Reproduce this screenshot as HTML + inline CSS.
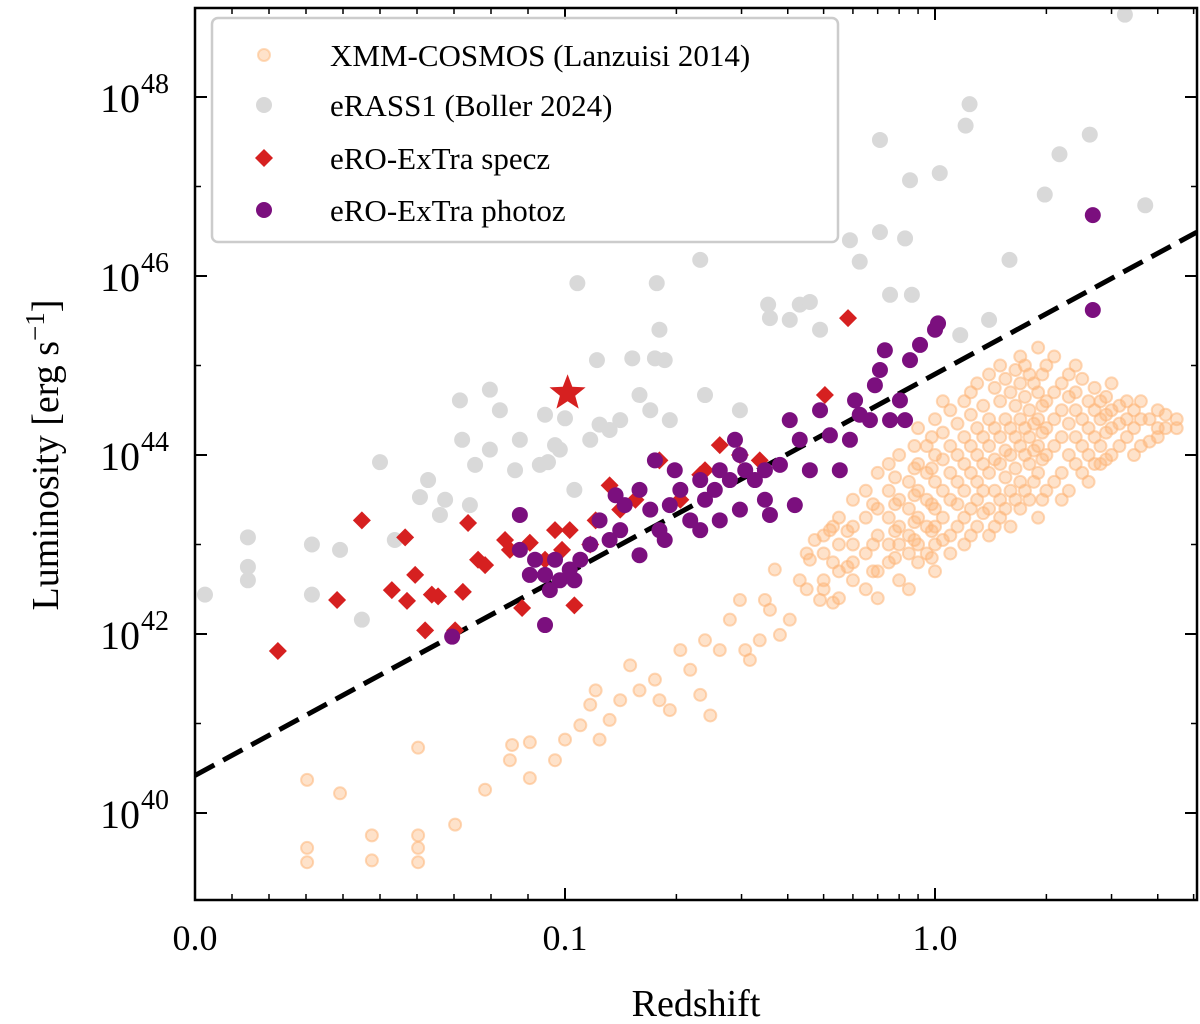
<!DOCTYPE html>
<html><head><meta charset="utf-8"><style>
html,body{margin:0;padding:0;background:#fff;}
svg{display:block;font-family:"Liberation Serif","DejaVu Serif",serif;}
</style></head><body>
<svg id="chart" width="1200" height="1024" viewBox="0 0 1200 1024" xmlns="http://www.w3.org/2000/svg">
<g id="marks"></g>
<g id="axes"></g>
</svg>
<script>
// ---- data ----
const xMajorTicks = [0.0, 0.1, 1.0];
const xMajorLabels = ["0.0", "0.1", "1.0"];
const yMajorTicks = [40, 42, 44, 46, 48];
const fitLineZ = [0, 5.1];
const fitLineL = [40.42, 46.49];

const orangeZ = [0.0303,0.0303,0.0303,0.0392,0.0478,0.0478,0.0603,0.0603,0.0603,0.0603,0.0703,0.0784,0.0857,0.0851,0.0905,0.0905,0.0973,0.1,0.110,0.117,0.121,0.124,0.132,0.141,0.150,0.159,0.175,0.180,0.192,0.205,0.218,0.232,0.247,0.239,0.262,0.279,0.297,0.307,0.316,0.336,0.347,0.358,0.369,0.381,0.405,0.431,0.459,0.473,0.489,0.520,
0.5,0.5,0.5,0.5,0.55,0.55,0.55,0.55,0.6,0.6,0.6,0.6,0.6,0.65,0.65,0.65,0.65,0.7,0.7,0.7,0.7,0.7,0.75,0.75,0.75,0.75,0.75,0.8,0.8,0.8,0.8,0.8,0.85,0.85,0.85,0.85,0.85,0.9,0.9,0.9,0.9,0.9,0.9,0.95,0.95,0.95,0.95,0.95,1.0,1.0,1.0,1.0,1.0,1.0,1.0,1.1,1.1,1.1,1.1,1.1,1.1,1.2,1.2,1.2,1.2,1.2,1.2,1.3,1.3,1.3,1.3,1.3,1.3,1.4,1.4,1.4,1.4,1.4,1.4,1.5,1.5,1.5,1.5,1.5,1.5,1.6,1.6,1.6,1.6,1.6,1.7,1.7,1.7,1.7,1.7,1.7,1.8,1.8,1.8,1.8,1.8,1.9,1.9,1.9,1.9,1.9,1.9,2.0,2.0,2.0,2.0,2.0,2.2,2.2,2.2,2.2,2.2,2.4,2.4,2.4,2.4,2.4,2.6,2.6,2.6,2.6,2.8,2.8,2.8,2.8,3.0,3.0,3.0,3.0,3.3,3.3,3.3,3.6,3.6,3.6,4.0,4.0,4.0,4.5,4.5,
0.58,0.58,0.68,0.68,0.68,0.78,0.78,0.78,0.78,0.88,0.88,0.88,0.88,0.88,0.98,0.98,0.98,0.98,0.98,1.05,1.05,1.05,1.05,1.05,1.05,1.15,1.15,1.15,1.15,1.15,1.25,1.25,1.25,1.25,1.25,1.25,1.35,1.35,1.35,1.35,1.35,1.45,1.45,1.45,1.45,1.45,1.55,1.55,1.55,1.55,1.55,1.65,1.65,1.65,1.65,1.65,1.75,1.75,1.75,1.75,1.75,1.85,1.85,1.85,1.85,1.95,1.95,1.95,1.95,1.95,2.1,2.1,2.1,2.1,2.1,2.3,2.3,2.3,2.3,2.3,2.5,2.5,2.5,2.5,2.7,2.7,2.7,2.7,2.9,2.9,2.9,2.9,3.15,3.15,3.15,3.45,3.45,3.45,3.8,3.8,4.2,4.2,0.45,0.45,0.53,0.53,0.53];
const orangeL = [40.37,39.61,39.45,40.22,39.75,39.47,40.73,39.75,39.61,39.45,39.87,40.26,40.76,40.59,40.39,40.79,40.59,40.82,40.98,41.21,41.37,40.82,41.04,41.26,41.65,41.37,41.49,41.26,41.15,41.82,41.60,41.32,41.09,41.93,41.82,42.16,42.38,41.82,41.71,41.93,42.38,42.27,42.72,41.99,42.16,42.60,42.83,43.05,42.38,43.16,
42.6,42.9,43.1,42.5,42.7,43.0,43.3,42.4,42.8,43.2,43.5,42.6,43.0,42.9,43.3,42.5,43.6,42.7,43.1,43.4,43.8,42.4,43.0,43.3,42.8,43.6,43.9,42.6,43.2,43.5,43.0,44.0,42.9,43.4,43.7,43.1,42.5,43.0,43.3,43.6,43.9,42.8,44.3,43.2,43.5,43.8,42.9,44.1,42.7,43.0,43.4,43.7,44.0,44.4,43.2,43.1,43.5,43.8,44.1,42.9,44.5,43.3,43.6,43.9,44.2,43.0,44.6,43.2,43.7,44.0,44.3,43.5,44.8,43.4,43.8,44.1,44.4,43.1,44.9,43.5,43.9,44.2,44.6,43.3,45.0,43.6,44.0,44.3,44.7,43.2,43.7,44.1,44.4,44.8,43.4,45.1,43.5,43.9,44.2,44.5,44.9,43.8,44.1,44.4,44.7,43.3,45.2,43.6,44.0,44.3,44.6,45.0,43.8,44.2,44.5,44.8,43.5,43.9,44.2,44.5,44.7,45.0,44.0,44.3,44.6,43.7,44.1,44.4,44.6,43.9,44.0,44.3,44.5,44.8,44.2,44.4,44.6,44.1,44.4,44.6,44.2,44.5,44.3,44.4,44.3,
42.75,43.15,43.0,43.45,42.7,42.85,43.15,43.45,43.75,43.05,43.25,43.55,43.85,44.1,42.85,43.15,43.45,43.85,44.2,43.05,43.3,43.6,43.95,44.25,44.6,43.2,43.45,43.7,44.0,44.35,43.1,43.4,43.8,44.1,44.45,44.7,43.35,43.6,43.9,44.2,44.55,43.6,43.95,44.3,44.75,43.2,43.4,43.75,44.05,44.4,44.85,43.5,43.85,44.2,44.55,44.95,43.6,44.0,44.3,44.65,45.0,43.7,44.05,44.35,44.8,43.5,43.95,44.25,44.55,44.9,43.7,44.1,44.4,44.7,45.1,43.6,44.0,44.35,44.65,44.9,43.8,44.1,44.4,44.85,43.9,44.2,44.5,44.75,43.95,44.25,44.45,44.65,44.1,44.35,44.55,44.0,44.3,44.5,44.15,44.4,44.3,44.45,42.5,42.9,42.35,42.8,43.2];

const greyZ = [0.0027,0.0143,0.0143,0.0143,0.0316,0.0316,0.0392,0.0451,0.05,0.054,0.0608,0.063,0.0662,0.0676,0.0716,0.0722,0.0743,0.0757,0.0797,0.0797,0.0824,0.0865,0.0878,0.0932,0.0946,0.0954,0.0973,0.0986,0.108,0.117,0.122,0.124,0.132,0.141,0.152,0.159,0.170,0.175,0.177,0.180,0.186,0.192,0.232,0.239,0.297,0.354,0.358,0.405,0.431,0.459,0.489,0.589,0.626,0.710,0.710,0.756,0.830,0.856,0.866,1.03,1.17,1.21,1.24,1.40,1.59,1.98,2.17,2.62,3.26,3.70,0.1,0.106];
const greyL = [42.44,43.08,42.60,42.75,43.0,42.44,42.94,42.16,43.92,43.05,43.53,43.72,43.33,43.5,44.61,44.17,43.44,43.89,44.73,44.06,44.50,43.83,44.17,43.89,44.45,43.92,44.11,44.06,45.92,44.17,45.06,44.34,44.28,44.39,45.08,44.67,44.50,45.08,45.92,45.40,45.06,44.39,46.18,44.67,44.50,45.68,45.53,45.51,45.68,45.71,45.40,46.40,46.16,47.52,46.49,45.79,46.42,47.07,45.79,47.15,45.34,47.68,47.92,45.51,46.18,46.91,47.36,47.58,48.92,46.79,44.41,43.61];

const speczZ = [0.0224,0.0384,0.0451,0.0532,0.0568,0.0595,0.0573,0.0622,0.064,0.0657,0.0703,0.0724,0.0738,0.0765,0.0784,0.0838,0.0851,0.0884,0.0905,0.0946,0.0973,0.0992,0.103,0.117,0.106,0.121,0.132,0.141,0.155,0.180,0.205,0.232,0.239,0.262,0.297,0.336,0.582,0.504];
const speczL = [41.81,42.38,43.27,42.49,43.08,42.66,42.37,42.04,42.44,42.42,42.04,42.47,43.24,42.83,42.77,43.05,42.94,42.29,43.02,42.83,43.16,42.94,43.16,43.0,42.32,43.27,43.66,43.39,43.5,43.94,43.5,43.78,43.83,44.11,44.0,43.94,45.53,44.67];
const starZ = [0.1016];
const starL = [44.69];

const photozZ = [0.0695,0.0946,0.0878,0.0905,0.0946,0.0973,0.0986,0.106,0.110,0.124,0.137,0.141,0.145,0.159,0.170,0.175,0.180,0.192,0.205,0.218,0.232,0.239,0.254,0.262,0.279,0.297,0.307,0.326,0.347,0.358,0.381,0.405,0.418,0.431,0.459,0.489,0.520,0.553,0.589,0.608,0.626,0.667,0.688,0.710,0.732,0.756,0.804,0.830,0.856,0.911,1.0,1.019,2.67,2.67,0.117,0.132,0.159,0.186,0.198,0.232,0.262,0.297,0.288,0.347,0.0878,0.0919,0.0959,0.103];
const photozL = [41.97,42.10,43.33,42.66,42.66,42.83,42.60,42.60,42.83,43.27,43.55,43.16,43.44,43.61,43.39,43.94,43.16,43.44,43.61,43.27,43.72,43.50,43.61,43.83,43.72,44.0,43.83,43.72,43.50,43.33,43.89,44.39,43.44,44.17,43.83,44.50,44.22,43.83,44.17,44.61,44.45,44.39,44.78,44.95,45.17,44.39,44.61,44.39,45.06,45.23,45.40,45.47,45.62,46.68,43.0,43.05,42.88,43.05,43.83,43.16,43.27,43.39,44.17,43.83,42.94,42.83,42.49,42.72];

// ---- scales ----
const X0 = 195, X1 = 1197, Y0 = 8, Y1 = 900;
function xpx(z){ return z <= 0.1 ? X0 + 3700*z : 565 + 370*Math.log10(z/0.1); }
function ypx(L){ return 97 + (48 - L)*89.5; }

const NS = "http://www.w3.org/2000/svg";
const marks = document.getElementById('marks');
const axes = document.getElementById('axes');
function mk(tag, attrs, parent){
  const e = document.createElementNS(NS, tag);
  for (const k in attrs) e.setAttribute(k, attrs[k]);
  parent.appendChild(e); return e;
}
const defs = mk('defs', {}, document.getElementById('chart'));
const cp = mk('clipPath', {id:'clip'}, defs);
mk('rect', {x:X0, y:Y0, width:X1-X0, height:Y1-Y0}, cp);
marks.setAttribute('clip-path', 'url(#clip)');

orangeZ.forEach((z,i)=>{
  const c = mk('circle', {cx:xpx(z), cy:ypx(orangeL[i]), r:6, fill:'#fdb77a', 'fill-opacity':0.4, stroke:'#fdb77a', 'stroke-opacity':0.55, 'stroke-width':2}, marks);
  
  
});
greyZ.forEach((z,i)=>{
  const c = mk('circle', {cx:xpx(z), cy:ypx(greyL[i]), r:8, fill:'#d9d9d9'}, marks);
  
  
});
{
  const l = mk('line', {x1:xpx(fitLineZ[0]), y1:ypx(fitLineL[0]), x2:xpx(fitLineZ[1]), y2:ypx(fitLineL[1]), stroke:'#000', 'stroke-width':5, 'stroke-dasharray':'22,10'}, marks);
  
  
}
function diamond(cx, cy, s){ return `M${cx},${cy-s} L${cx+s},${cy} L${cx},${cy+s} L${cx-s},${cy} Z`; }
speczZ.forEach((z,i)=>{
  const p = mk('path', {d:diamond(xpx(z), ypx(speczL[i]), 9), fill:'#d62020'}, marks);
  
  
});
photozZ.forEach((z,i)=>{
  const c = mk('circle', {cx:xpx(z), cy:ypx(photozL[i]), r:8, fill:'#7b0f7e'}, marks);
  
  
});
function starPath(cx, cy, R, r){
  let d = '';
  for (let k=0;k<10;k++){
    const a = -Math.PI/2 + k*Math.PI/5, rr = k%2 ? r : R;
    d += (k?'L':'M') + (cx + rr*Math.cos(a)).toFixed(1) + ',' + (cy + rr*Math.sin(a)).toFixed(1);
  }
  return d + 'Z';
}
starZ.forEach((z,i)=>{
  const p = mk('path', {d:starPath(xpx(z), ypx(starL[i]), 19, 8), fill:'#d62020'}, marks);
  
  
});

// ---- axes ----
const frame = mk('rect', {x:X0, y:Y0, width:X1-X0, height:Y1-Y0, fill:'none', stroke:'#000', 'stroke-width':2.5}, axes);


function tick(x1,y1,x2,y2,w){ mk('line',{x1,y1,x2,y2,stroke:'#000','stroke-width':w},axes); }
xMajorTicks.forEach((v,i)=>{
  const x = xpx(v);
  tick(x, Y1, x, Y1-12, 2); tick(x, Y0, x, Y0+12, 2);
  const t = mk('text', {x:x, y:950, 'text-anchor':'middle', 'font-size':36}, axes);
  t.textContent = xMajorLabels[i];
  
  
});
const minorX = [];
for (let k=1;k<10;k++) minorX.push(k*0.01);
for (let k=2;k<10;k++) minorX.push(k*0.1);
for (let k=2;k<=5;k++) minorX.push(k*1);
minorX.forEach(v=>{ const x=xpx(v); if(x<X1){ tick(x,Y1,x,Y1-6,1.5); tick(x,Y0,x,Y0+6,1.5);} });
for (let L=39; L<=49; L++){
  const y = ypx(L); if (y<Y0||y>Y1) continue;
  const major = yMajorTicks.includes(L);
  const len = major ? 12 : 6;
  tick(X0, y, X0+len, y, major?2:1.5); tick(X1, y, X1-len, y, major?2:1.5);
}
yMajorTicks.forEach(v=>{
  const y = ypx(v);
  const t = mk('text', {x:140, y:y+15, 'text-anchor':'end', 'font-size':40}, axes);
  t.textContent = '10';
  
  
  const s = mk('text', {x:141, y:y-4, 'text-anchor':'start', 'font-size':28}, axes);
  s.textContent = String(v);
  
  
});
</script>
<svg style="position:absolute;left:0;top:0" width="1200" height="1024">
  <text x="696" y="1016" text-anchor="middle" font-size="38" font-family="Liberation Serif, serif">Redshift</text>
  <text transform="translate(58,455) rotate(-90)" text-anchor="middle" font-size="38" font-family="Liberation Serif, serif">Luminosity [erg s<tspan font-size="27" dy="-14">−1</tspan><tspan dy="14">]</tspan></text>
  <g font-family="Liberation Serif, serif" font-size="31">
    <rect x="212" y="18" width="626" height="224" rx="6" fill="#fff" fill-opacity="0.85" stroke="#ccc" stroke-width="2.5"/>
    <g>
      <circle cx="264" cy="55" r="6" fill="#fdb77a" fill-opacity="0.4" stroke="#fdb77a" stroke-opacity="0.5" stroke-width="2"/>
      <text x="330" y="66">XMM-COSMOS (Lanzuisi 2014)</text>
    </g>
    <g>
      <circle cx="264" cy="105" r="8" fill="#d9d9d9"/>
      <text x="330" y="116">eRASS1 (Boller 2024)</text>
    </g>
    <g>
      <path d="M264,149 L273,158 L264,167 L255,158 Z" fill="#d62020"/>
      <text x="330" y="169">eRO-ExTra specz</text>
    </g>
    <g>
      <circle cx="264" cy="210" r="8" fill="#7b0f7e"/>
      <text x="330" y="221">eRO-ExTra photoz</text>
    </g>
  </g>
</svg>
</body></html>
